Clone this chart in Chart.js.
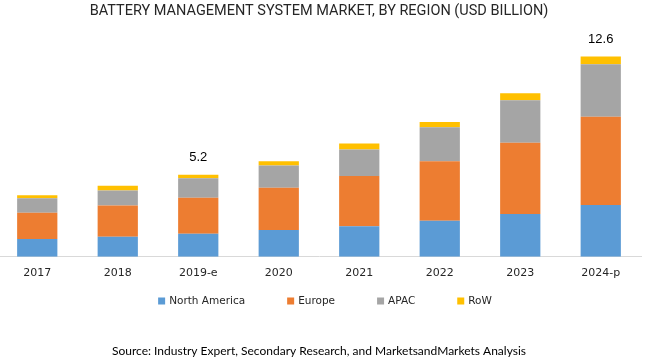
<!DOCTYPE html>
<html>
<head>
<meta charset="utf-8">
<script src="https://cdn.jsdelivr.net/npm/chart.js@4.4.0/dist/chart.umd.min.js"></script>
<style>
html, body { margin: 0; padding: 0; background: #fff; overflow: hidden; }
#wrap { position: absolute; left: -3px; top: 0; width: 656px; height: 361px; }
</style>
</head>
<body>
<div id="wrap"><canvas id="chart"></canvas></div>
<script>
// values, USD billion
var years = ['2017', '2018', '2019-e', '2020', '2021', '2022', '2023', '2024-p'];
var northAmerica = [1.12, 1.26, 1.45, 1.68, 1.93, 2.27, 2.69, 3.26];
var europe = [1.66, 1.97, 2.27, 2.67, 3.15, 3.74, 4.49, 5.55];
var apac = [0.90, 0.95, 1.22, 1.39, 1.68, 2.14, 2.67, 3.31];
var restOfWorld = [0.19, 0.30, 0.23, 0.27, 0.38, 0.34, 0.44, 0.49];
var totalLabels = ['', '', '5.2', '', '', '', '', '12.6'];
var sourceText = 'Source: Industry Expert, Secondary Research, and MarketsandMarkets Analysis';

// total on top of the stack for the labelled years
var totalsPlugin = {
    id: 'totals',
    afterDatasetsDraw: function (chart) {
        var ctx = chart.ctx;
        var last = chart.getDatasetMeta(chart.data.datasets.length - 1);
        ctx.save();
        ctx.font = '13px "Liberation Sans", Arial, sans-serif';
        ctx.fillStyle = '#000';
        ctx.textAlign = 'center';
        ctx.textBaseline = 'middle';
        totalLabels.forEach(function (txt, i) {
            if (!txt) return;
            var bar = last.data[i];
            ctx.fillText(txt, bar.x, bar.y - 17);
        });
        ctx.restore();
    }
};

// legend row and source line under the axis
var footerPlugin = {
    id: 'footer',
    afterDraw: function (chart) {
        var ctx = chart.ctx;
        var area = chart.chartArea;
        var mid = (area.left + area.right) / 2;
        var box = 7, gapText = 4, gapItem = 42;
        ctx.save();
        ctx.font = '10.5px "DejaVu Sans", Verdana, sans-serif';
        var widths = chart.data.datasets.map(function (ds) {
            return box + gapText + ctx.measureText(ds.label).width;
        });
        var total = widths.reduce(function (a, b) { return a + b; }, 0) + gapItem * (widths.length - 1);
        var x = mid - total / 2 + 6;
        var y = 301;
        ctx.textBaseline = 'middle';
        ctx.textAlign = 'left';
        chart.data.datasets.forEach(function (ds, i) {
            ctx.fillStyle = ds.backgroundColor;
            ctx.fillRect(x, y - box / 2, box, box);
            ctx.fillStyle = '#262626';
            ctx.fillText(ds.label, x + box + gapText, y);
            x += widths[i] + gapItem;
        });

        ctx.font = '12px Lato, "Open Sans", sans-serif';
        ctx.fillStyle = '#000';
        ctx.textAlign = 'center';
        ctx.fillText(sourceText, mid, 351);
        ctx.restore();
    }
};

new Chart(document.getElementById('chart'), {
    type: 'bar',
    data: {
        labels: years,
        datasets: [
            { label: 'North America', data: northAmerica, backgroundColor: '#5b9bd5' },
            { label: 'Europe', data: europe, backgroundColor: '#ed7d31' },
            { label: 'APAC', data: apac, backgroundColor: '#a5a5a5' },
            { label: 'RoW', data: restOfWorld, backgroundColor: '#ffc000' }
        ]
    },
    options: {
        responsive: true,
        maintainAspectRatio: false,
        animation: false,
        layout: { padding: { left: 0, right: 12, top: 0, bottom: 71 } },
        datasets: { bar: { barPercentage: 0.5, categoryPercentage: 1.0 } },
        plugins: {
            legend: { display: false },
            tooltip: { enabled: false },
            title: {
                display: true,
                text: 'BATTERY MANAGEMENT SYSTEM MARKET, BY REGION (USD BILLION)',
                color: '#262626',
                font: { family: 'Roboto, sans-serif', size: 14.5, weight: 'normal', lineHeight: 1.2 },
                padding: { top: 3, bottom: 14 }
            }
        },
        scales: {
            x: {
                stacked: true,
                grid: { display: false, drawTicks: false },
                border: { display: true, color: '#d9d9d9', width: 1 },
                ticks: {
                    color: '#262626',
                    padding: 10,
                    font: { family: '"DejaVu Sans", Verdana, sans-serif', size: 11, lineHeight: 1.2 }
                }
            },
            y: {
                stacked: true,
                display: false,
                min: 0,
                max: 14
            }
        }
    },
    plugins: [totalsPlugin, footerPlugin]
});
</script>
</body>
</html>
